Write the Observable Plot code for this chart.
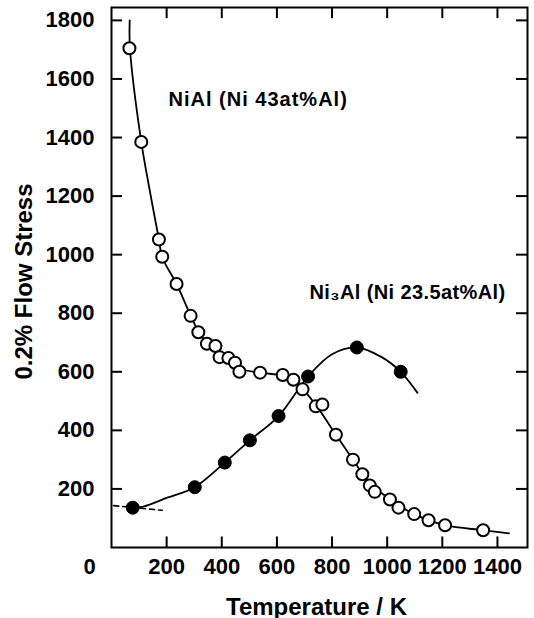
<!DOCTYPE html>
<html><head><meta charset="utf-8">
<script src="https://cdn.jsdelivr.net/npm/d3@7"></script>
<script src="https://cdn.jsdelivr.net/npm/@observablehq/plot@0.6"></script>
<style>
html,body{margin:0;padding:0;background:#fff;}
</style></head><body><div id="chart"></div>
<script>
// Tick values
const xTicks = [200, 400, 600, 800, 1000, 1200, 1400];
const yTicks = [200, 400, 600, 800, 1000, 1200, 1400, 1600, 1800];

// NiAl (Ni 43at%Al) measured points (open circles)
const niAlT = [65,108,172,184,236,287,315,346,377,392,424,448,464,539,621,660,693,741,765,814,876,910,937,955,1010,1041,1098,1150,1210,1348];
const niAlStress = [1705,1385,1052,993,900,791,735,696,688,650,647,631,600,597,589,573,540,482,488,385,300,250,212,190,164,136,114,93,76,59];

// NiAl drawn curve
const niAlCurveT = [66,67,108,137,172,184,236,287,317,350,400,460,540,620,660,695,750,814,876,930,1010,1098,1210,1348,1442];
const niAlCurveStress = [1800,1705,1385,1228,1052,991,900,792,735,695,655,612,597,587,570,540,475,385,300,228,164,114,76,59,48];

// Ni3Al (Ni 23.5at%Al) measured points (filled circles)
const ni3AlT = [77,302,411,502,606,713,890,1049];
const ni3AlStress = [136,206,290,366,449,584,683,600];

// Ni3Al drawn curve
const ni3AlCurveT = [77,116,202,302,411,502,606,713,800,890,980,1049,1110];
const ni3AlCurveStress = [136,140,170,206,290,366,449,584,660,683,650,600,528];

// Ni3Al dashed extrapolation
const ni3AlDashT = [8,184];
const ni3AlDashStress = [143,127];

const labelNiAl = "NiAl (Ni 43at%Al)";
const labelNi3Al = "Ni\u2083Al (Ni 23.5at%Al)";
const xLabel = "Temperature / K";
const yLabel = "0.2% Flow Stress";

const xMax = 1509, yMax = 1844;
const toPts = (xs, ys) => xs.map((x, i) => ({x, y: ys[i]}));
const fmt = d => String(d);

const font = "'Liberation Sans', Arial, Helvetica, sans-serif";

const chart = Plot.plot({
  width: 534, height: 618,
  marginLeft: 111, marginRight: 7, marginTop: 7, marginBottom: 71,
  x: {domain: [0, xMax]},
  y: {domain: [0, yMax]},
  style: {fontFamily: font, fontWeight: "bold", fontSize: "22px", color: "black", background: "white"},
  marks: [
    // inward ticks on all four sides
    Plot.ruleY(yTicks, {y: d => d, x1: 0, x2: 40, stroke: "black", strokeWidth: 2}),
    Plot.ruleY(yTicks, {y: d => d, x1: xMax - 40, x2: xMax, stroke: "black", strokeWidth: 2}),
    Plot.ruleX(xTicks, {x: d => d, y1: 0, y2: 36, stroke: "black", strokeWidth: 2}),
    Plot.ruleX(xTicks, {x: d => d, y1: yMax - 38, y2: yMax, stroke: "black", strokeWidth: 2}),
    Plot.frame({stroke: "black", strokeWidth: 2}),
    // tick labels
    Plot.axisY(yTicks, {anchor: "left", tickSize: 0, tickPadding: 17, label: null, tickFormat: fmt, fontSize: 22, fontWeight: "bold"}),
    Plot.axisX(xTicks, {anchor: "bottom", tickSize: 0, tickPadding: 11, label: null, tickFormat: fmt, fontSize: 22, fontWeight: "bold"}),
    Plot.axisX([0], {anchor: "bottom", tickSize: 0, tickPadding: 11, label: null, tickFormat: fmt, fontSize: 22, fontWeight: "bold", dx: -22}),
    // axis titles
    Plot.text([yLabel], {frameAnchor: "left", dx: -80, dy: 4, rotate: -90, lineAnchor: "bottom", textAnchor: "middle", fontSize: 24, fontWeight: "bold"}),
    Plot.text([xLabel], {frameAnchor: "bottom", dx: -3, dy: 67, lineAnchor: "bottom", textAnchor: "middle", fontSize: 24, fontWeight: "bold"}),
    // curves
    Plot.line(toPts(ni3AlDashT, ni3AlDashStress), {x: "x", y: "y", stroke: "black", strokeWidth: 1.6, strokeDasharray: "5,4"}),
    Plot.line(toPts(niAlCurveT, niAlCurveStress), {x: "x", y: "y", stroke: "black", strokeWidth: 1.8, curve: "catmull-rom"}),
    Plot.line(toPts(ni3AlCurveT, ni3AlCurveStress), {x: "x", y: "y", stroke: "black", strokeWidth: 1.8, curve: "catmull-rom"}),
    // points
    Plot.dot(toPts(niAlT, niAlStress), {x: "x", y: "y", r: 6, fill: "white", stroke: "black", strokeWidth: 2}),
    Plot.dot(toPts(ni3AlT, ni3AlStress), {x: "x", y: "y", r: 6.5, fill: "black", stroke: "black", strokeWidth: 1}),
    // annotations
    Plot.text([labelNiAl], {x: 207, y: 1506, textAnchor: "start", lineAnchor: "bottom", fontSize: 20, fontWeight: "bold"}),
    Plot.text([labelNi3Al], {x: 718, y: 847, textAnchor: "start", lineAnchor: "bottom", fontSize: 20, fontWeight: "bold"})
  ]
});
// slightly looser letter spacing for the two curve labels, as in the original
d3.select(chart).selectAll("text").each(function() {
  const t = this.textContent;
  if (t === labelNiAl) this.setAttribute("letter-spacing", "1");
  else if (t === labelNi3Al) this.setAttribute("letter-spacing", "0.4");
});
document.getElementById("chart").appendChild(chart);
</script></body></html>
